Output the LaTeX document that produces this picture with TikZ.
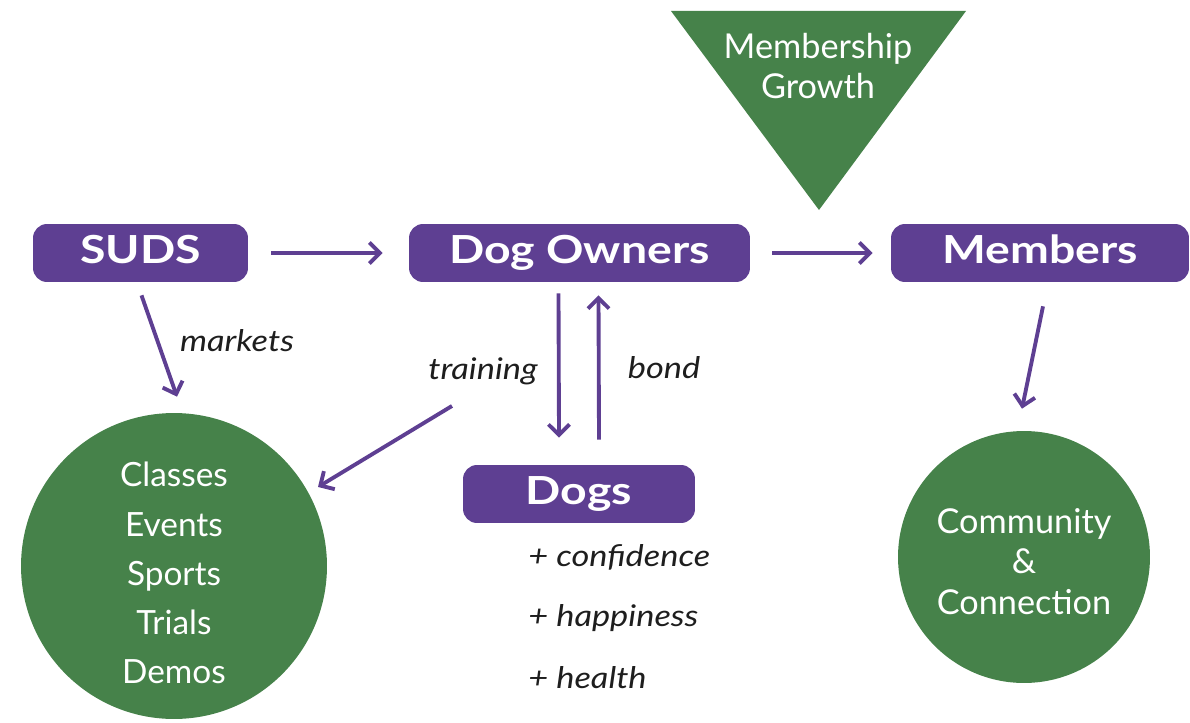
\documentclass[tikz,border=0pt]{standalone}
\usepackage{fontspec}
\setmainfont{Lato}[BoldFeatures={FakeStretch=1.2},ItalicFeatures={FakeStretch=1.15}]
\usetikzlibrary{arrows.meta}

\definecolor{sudspurple}{HTML}{5E3F92}
\definecolor{sudsgreen}{HTML}{46824A}
\definecolor{labelgrey}{HTML}{1E1E1E}

\begin{document}
\begin{tikzpicture}[x=0.02cm,y=-0.02cm,
    box/.style={rectangle,rounded corners=0.28cm,fill=sudspurple,text=white,inner sep=0pt,
      minimum height=1.16cm,text height=16pt,text depth=4.5pt,
      font=\fontsize{22}{26}\selectfont\bfseries},
    blob/.style={circle,fill=sudsgreen,text=white,align=center,inner sep=0pt},
    lbl/.style={text=labelgrey,inner sep=0pt,font=\fontsize{17}{20}\selectfont\itshape},
    arr/.style={draw=sudspurple,line width=2.2pt,-{Straight Barb[length=6pt,width=12pt]}}]
    \useasboundingbox (0,0) rectangle (1190,723);

    % growth funnel at the top
    \fill[sudsgreen] (671,11) -- (966,11) -- (819,210) -- cycle;
    \node[text=white,align=center,inner sep=0pt,font=\fontsize{19.5}{22.7}\selectfont] (growth) at (818,66) {Membership\\Growth};

    \node[box,minimum width=4.3cm] (suds) at (140.5,253) {SUDS};
    \node[box,minimum width=6.82cm] (owners) at (579.5,253) {Dog Owners};
    \node[box,minimum width=5.96cm] (members) at (1040,253) {Members};
    \node[box,minimum width=4.64cm] (dogs) at (579,494) {Dogs};

    % the rules push the lines down a little inside the circles
    \node[blob,minimum size=6.12cm,font=\fontsize{19}{28}\selectfont] (acts) at (174,566) {\rule{0pt}{22pt}Classes\\Events\\Sports\\Trials\\Demos};
    \node[blob,minimum size=5.04cm,font=\fontsize{19.5}{23}\selectfont] (community) at (1024,557) {\rule{0pt}{19.5pt}Community\\\&\\Connection};

    \node[lbl] (markets) at (237,341) {markets};
    \node[lbl] (training) at (483,371) {training};
    \node[lbl] (bond) at (664,368) {bond};
    \node[lbl,anchor=west] (conf) at (528,557) {+ confidence};
    \node[lbl,anchor=west] (happy) at (528,618) {+ happiness};
    \node[lbl,anchor=west] (health) at (528,678) {+ health};

    \draw[arr] ([shift={(23,0)}]suds.east) -- ([shift={(-26,0)}]owners.west);
    \draw[arr] ([shift={(22,0)}]owners.east) -- ([shift={(-18,0)}]members.west);

    \draw[arr] ([shift={(1,13)}]suds.south) -- ([shift={(3,-16)}]acts.north);
    \draw[arr] ([shift={(-31,21)}]training.south) -- ([shift={(144,-79)}]acts.center);

    \draw[arr] ([shift={(-21,11)}]owners.south) -- ([shift={(-20,-27)}]dogs.north);
    \draw[arr] ([shift={(20,-25)}]dogs.north) -- ([shift={(19,13)}]owners.south);

    \draw[arr] ([shift={(3,24)}]members.south) -- ([shift={(-2,-22)}]community.north);
\end{tikzpicture}
\end{document}
